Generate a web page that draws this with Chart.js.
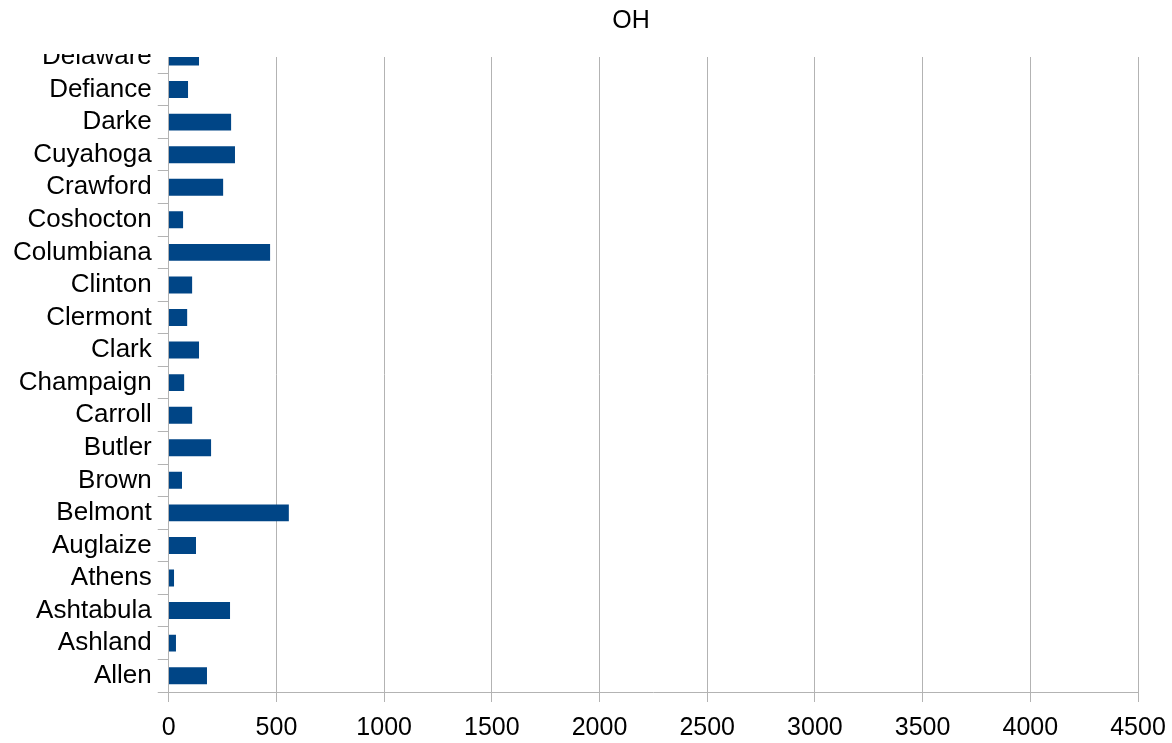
<!DOCTYPE html>
<html>
<head>
<meta charset="utf-8">
<script src="https://cdn.jsdelivr.net/npm/chart.js@4"></script>
<style>
  html, body { margin: 0; padding: 0; background: #fff; }
  #wrap { width: 1172px; height: 743px; }
</style>
</head>
<body>
<div id="wrap"><canvas id="oh-chart" width="1172" height="743"></canvas></div>
<script>
const chartTitle = 'OH';
const counties = ['Allen', 'Ashland', 'Ashtabula', 'Athens', 'Auglaize', 'Belmont', 'Brown', 'Butler', 'Carroll', 'Champaign',
    'Clark', 'Clermont', 'Clinton', 'Columbiana', 'Coshocton', 'Crawford', 'Cuyahoga', 'Darke', 'Defiance', 'Delaware'];
const counts = [176, 32, 283, 23, 125, 556, 60, 195, 107, 70,
    139, 84, 107, 469, 65, 251, 306, 288, 88, 139];
const xMax = 4500;
const xStep = 500;

document.addEventListener('DOMContentLoaded', () => {
    const gridColor = '#b3b3b3';
    const family = '"Liberation Sans", Arial, sans-serif';

    // title drawn a bit right of canvas centre, like the original
    const titlePlugin = {
        id: 'ohTitle',
        afterDraw(chart) {
            const c = chart.ctx;
            c.save();
            c.fillStyle = '#000';
            c.font = '25px ' + family;
            c.textAlign = 'center';
            c.textBaseline = 'middle';
            c.fillText(chartTitle, 631, 21);
            c.restore();
        }
    };

    // the top category is cut off at the plot edge in the original
    const cropTop = {
        id: 'cropTop',
        afterDatasetsDraw(chart) {
            const c = chart.ctx;
            const a = chart.chartArea;
            c.save();
            c.fillStyle = '#fff';
            c.fillRect(0, 38, a.left - 1, a.top - 3 - 38);
            c.restore();
        }
    };

    const ctx = document.getElementById('oh-chart').getContext('2d');
    new Chart(ctx, {
        type: 'bar',
        data: {
            datasets: [{
                data: counts.map((v, i) => ({ x: v, y: i })),
                backgroundColor: '#004586',
                borderWidth: 0,
                categoryPercentage: 1,
                barPercentage: 1
            }]
        },
        plugins: [cropTop, titlePlugin],
        options: {
            indexAxis: 'y',
            responsive: false,
            animation: false,
            layout: { padding: { left: 7, right: 34, top: 57, bottom: 0 } },
            plugins: {
                legend: { display: false },
                title: { display: false },
                tooltip: { enabled: false }
            },
            scales: {
                x: {
                    type: 'linear',
                    min: 0,
                    max: xMax,
                    afterFit: (s) => { s.height = 51; s.paddingRight = 0; },
                    ticks: { stepSize: xStep, color: '#000', font: { family: family, size: 25 }, padding: 11, callback: (v) => String(v) },
                    grid: { color: gridColor, tickLength: 10 },
                    border: { color: gridColor }
                },
                y: {
                    type: 'linear',
                    offset: false,
                    min: -0.5,
                    max: counties.length - 1,
                    ticks: {
                        stepSize: 0.5,
                        autoSkip: false,
                        color: '#000',
                        font: { family: family, size: 26 },
                        padding: 6,
                        callback: (v) => Number.isInteger(v) ? counties[v] : ''
                    },
                    grid: {
                        offset: false,
                        drawOnChartArea: false,
                        tickLength: 11,
                        color: (c) => (c.tick && Number.isInteger(c.tick.value)) ? 'rgba(0,0,0,0)' : gridColor
                    },
                    border: { color: gridColor }
                }
            }
        }
    });
});
</script>
</body>
</html>
